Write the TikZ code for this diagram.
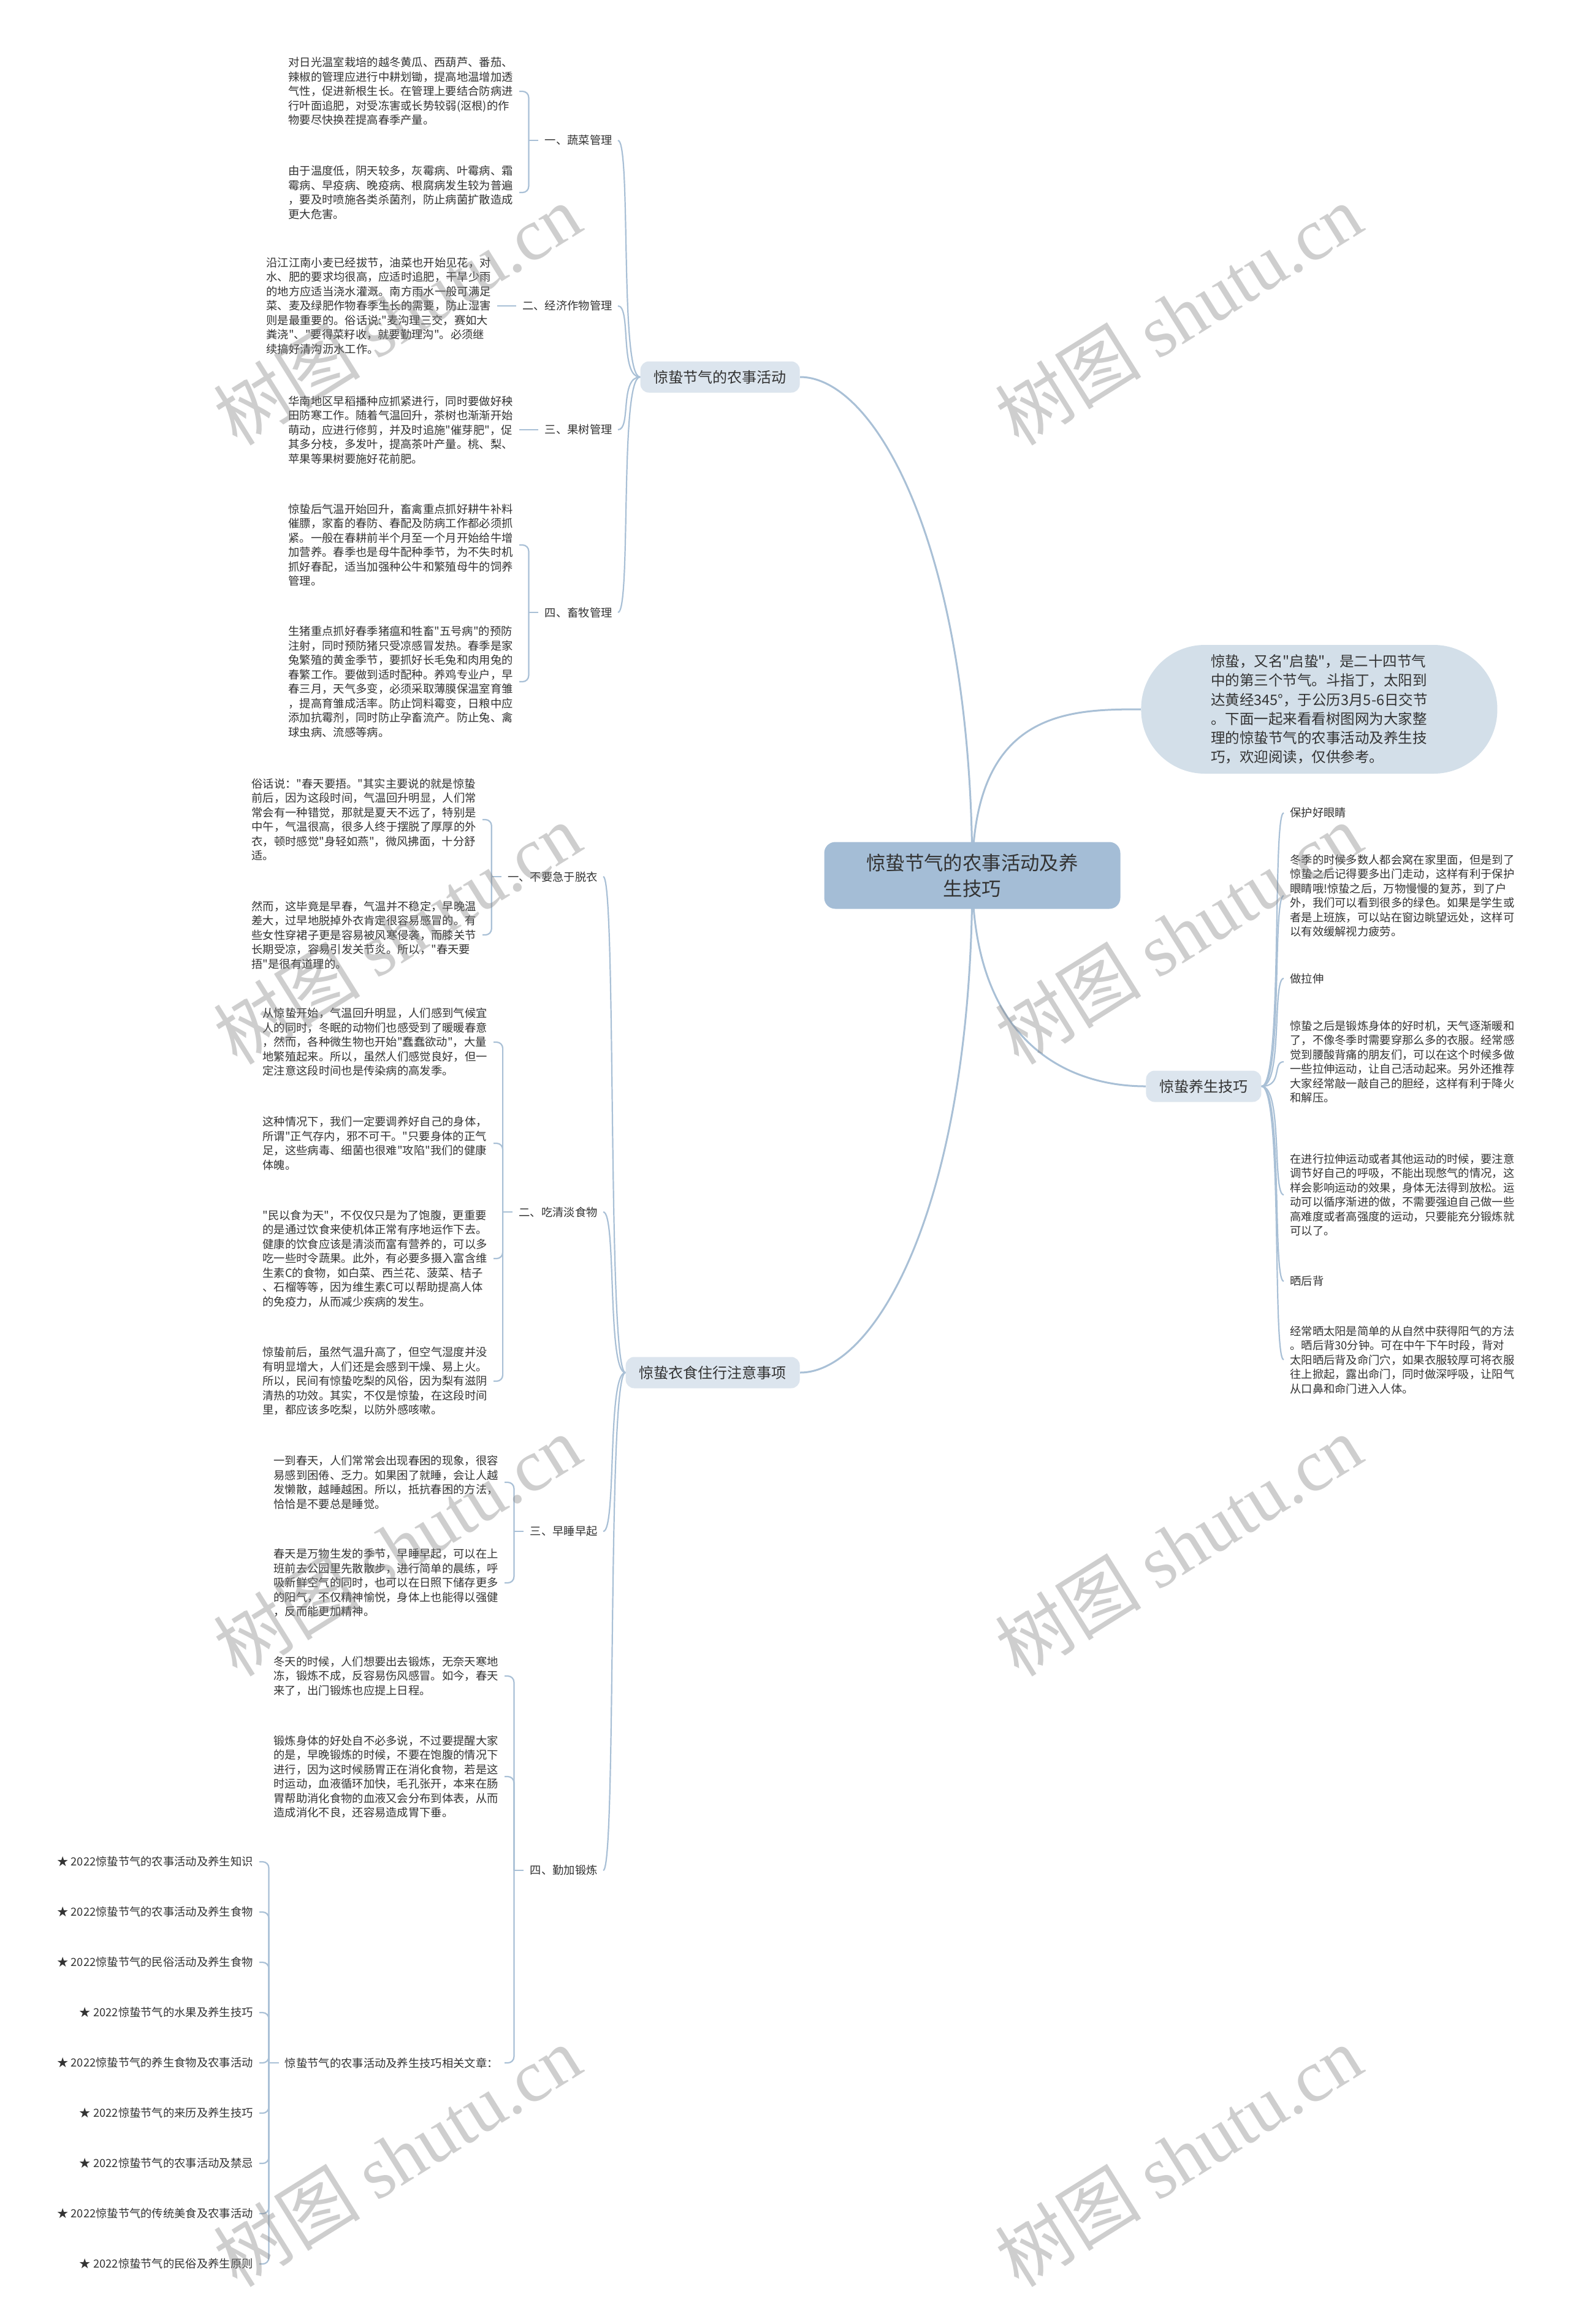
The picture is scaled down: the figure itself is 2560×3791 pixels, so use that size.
\documentclass[tikz,border=0pt]{standalone}
\usepackage{fontspec}
\newfontfamily\zhfont{Noto Sans CJK SC}
\newfontfamily\wmfont{Liberation Serif}
\usetikzlibrary{positioning,calc,backgrounds}
\definecolor{ink}{HTML}{333333}
\definecolor{linkblue}{HTML}{A9C0D6}
\definecolor{hubfill}{HTML}{A4BDD6}
\definecolor{branchfill}{HTML}{DCE5EE}
\definecolor{notefill}{HTML}{D3DFE9}

\begin{document}
\begin{tikzpicture}[x=0.5pt, y=-0.5pt,
  every node/.style={text=ink},
  hub/.style={fill=hubfill, rounded corners=9pt, align=center, inner sep=0pt,
              minimum width=241.5pt, minimum height=54.5pt,
              font={\zhfont\fontsize{15.7pt}{21pt}\selectfont}},
  note/.style={fill=notefill, rounded corners=52pt, align=left, inner sep=0pt,
               minimum width=290.5pt, minimum height=105pt, anchor=west,
               font={\zhfont\fontsize{11.75pt}{15.6pt}\selectfont}},
  branch/.style={fill=branchfill, rounded corners=7pt, inner xsep=11pt, inner ysep=0pt,
                 minimum height=25.5pt, font={\zhfont\fontsize{12pt}{14pt}\selectfont}},
  tag/.style={inner sep=0pt, anchor=east, font={\zhfont\fontsize{9.15pt}{11.75pt}\selectfont}},
  tagr/.style={tag, anchor=west},
  leaf/.style={tag, text width=183pt, align=left},
  leafr/.style={leaf, anchor=west},
  link/.style={draw=linkblue, line width=1.5pt},
  twig/.style={draw=linkblue, line width=1.1pt, rounded corners=5pt},
  wmark/.style={rotate=32, text=gray, opacity=0.38,
                font={\zhfont\fontsize{60pt}{60pt}\selectfont}}
]
\useasboundingbox (0,0) rectangle (2560,3791);

% centre and main branches
\node[hub] (root) at (1586,1428) {惊蛰节气的农事活动及养\\生技巧};
\node[note] (intro) at (1861,1157)
  {惊蛰，又名"启蛰"，是二十四节气\\中的第三个节气。斗指丁，太阳到\\达黄经345°，于公历3月5-6日交节\\。下面一起来看看树图网为大家整\\理的惊蛰节气的农事活动及养生技\\巧，欢迎阅读，仅供参考。};
\node[branch, anchor=east] (farm) at (1305,615) {惊蛰节气的农事活动};
\node[branch, anchor=east] (life) at (1305,2239) {惊蛰衣食住行注意事项};
\node[branch, anchor=west] (health) at (1869,1772) {惊蛰养生技巧};

% farm work
\node[tag] (veg) at (999,229) {一、蔬菜管理};
\node[tag] (crop) at (999,499) {二、经济作物管理};
\node[tag] (fruit) at (999,701) {三、果树管理};
\node[tag] (stock) at (999,999) {四、畜牧管理};

\node[leaf] (veg1) at (837,149) {对日光温室栽培的越冬黄瓜、西葫芦、番茄、\\辣椒的管理应进行中耕划锄，提高地温增加透\\气性，促进新根生长。在管理上要结合防病进\\行叶面追肥，对受冻害或长势较弱(沤根)的作\\物要尽快换茬提高春季产量。};
\node[leaf] (veg2) at (837,314) {由于温度低，阴天较多，灰霉病、叶霉病、霜\\霉病、早疫病、晚疫病、根腐病发生较为普遍\\，要及时喷施各类杀菌剂，防止病菌扩散造成\\更大危害。};
\node[leaf] (crop1) at (801,499) {沿江江南小麦已经拔节，油菜也开始见花，对\\水、肥的要求均很高，应适时追肥，干旱少雨\\的地方应适当浇水灌溉。南方雨水一般可满足\\菜、麦及绿肥作物春季生长的需要，防止湿害\\则是最重要的。俗话说:"麦沟理三交，赛如大\\粪浇"、"要得菜籽收，就要勤理沟"。必须继\\续搞好清沟沥水工作。};
\node[leaf] (fruit1) at (837,701) {华南地区早稻播种应抓紧进行，同时要做好秧\\田防寒工作。随着气温回升，茶树也渐渐开始\\萌动，应进行修剪，并及时追施"催芽肥"，促\\其多分枝，多发叶，提高茶叶产量。桃、梨、\\苹果等果树要施好花前肥。};
\node[leaf] (stock1) at (837,889) {惊蛰后气温开始回升，畜禽重点抓好耕牛补料\\催膘，家畜的春防、春配及防病工作都必须抓\\紧。一般在春耕前半个月至一个月开始给牛增\\加营养。春季也是母牛配种季节，为不失时机\\抓好春配，适当加强种公牛和繁殖母牛的饲养\\管理。};
\node[leaf] (stock2) at (837,1112) {生猪重点抓好春季猪瘟和牲畜"五号病"的预防\\注射，同时预防猪只受凉感冒发热。春季是家\\兔繁殖的黄金季节，要抓好长毛兔和肉用兔的\\春繁工作。要做到适时配种。养鸡专业户，早\\春三月，天气多变，必须采取薄膜保温室育雏\\，提高育雏成活率。防止饲料霉变，日粮中应\\添加抗霉剂，同时防止孕畜流产。防止兔、禽\\球虫病、流感等病。};

% daily life
\node[tag] (cloth) at (975,1430) {一、不要急于脱衣};
\node[tag] (diet) at (975,1977) {二、吃清淡食物};
\node[tag] (sleep) at (975,2498) {三、早睡早起};
\node[tag] (sport) at (975,3051) {四、勤加锻炼};

\node[leaf] (cloth1) at (777,1337) {俗话说："春天要捂。"其实主要说的就是惊蛰\\前后，因为这段时间，气温回升明显，人们常\\常会有一种错觉，那就是夏天不远了，特别是\\中午，气温很高，很多人终于摆脱了厚厚的外\\衣，顿时感觉"身轻如燕"，微风拂面，十分舒\\适。};
\node[leaf] (cloth2) at (777,1525) {然而，这毕竟是早春，气温并不稳定，早晚温\\差大，过早地脱掉外衣肯定很容易感冒的。有\\些女性穿裙子更是容易被风寒侵袭，而膝关节\\长期受凉，容易引发关节炎。所以，"春天要\\捂"是很有道理的。};
\node[leaf] (diet1) at (795,1700) {从惊蛰开始，气温回升明显，人们感到气候宜\\人的同时，冬眠的动物们也感受到了暖暖春意\\，然而，各种微生物也开始"蠢蠢欲动"，大量\\地繁殖起来。所以，虽然人们感觉良好，但一\\定注意这段时间也是传染病的高发季。};
\node[leaf] (diet2) at (795,1865) {这种情况下，我们一定要调养好自己的身体，\\所谓"正气存内，邪不可干。"只要身体的正气\\足，这些病毒、细菌也很难"攻陷"我们的健康\\体魄。};
\node[leaf] (diet3) at (795,2053) {"民以食为天"，不仅仅只是为了饱腹，更重要\\的是通过饮食来使机体正常有序地运作下去。\\健康的饮食应该是清淡而富有营养的，可以多\\吃一些时令蔬果。此外，有必要多摄入富含维\\生素C的食物，如白菜、西兰花、菠菜、桔子\\、石榴等等，因为维生素C可以帮助提高人体\\的免疫力，从而减少疾病的发生。};
\node[leaf] (diet4) at (795,2253) {惊蛰前后，虽然气温升高了，但空气湿度并没\\有明显增大，人们还是会感到干燥、易上火。\\所以，民间有惊蛰吃梨的风俗，因为梨有滋阴\\清热的功效。其实，不仅是惊蛰，在这段时间\\里，都应该多吃梨，以防外感咳嗽。};
\node[leaf] (sleep1) at (813,2418) {一到春天，人们常常会出现春困的现象，很容\\易感到困倦、乏力。如果困了就睡，会让人越\\发懒散，越睡越困。所以，抵抗春困的方法，\\恰恰是不要总是睡觉。};
\node[leaf] (sleep2) at (813,2582) {春天是万物生发的季节，早睡早起，可以在上\\班前去公园里先散散步，进行简单的晨练，呼\\吸新鲜空气的同时，也可以在日照下储存更多\\的阳气，不仅精神愉悦，身体上也能得以强健\\，反而能更加精神。};
\node[leaf] (sport1) at (813,2734) {冬天的时候，人们想要出去锻炼，无奈天寒地\\冻，锻炼不成，反容易伤风感冒。如今，春天\\来了，出门锻炼也应提上日程。};
\node[leaf] (sport2) at (813,2898) {锻炼身体的好处自不必多说，不过要提醒大家\\的是，早晚锻炼的时候，不要在饱腹的情况下\\进行，因为这时候肠胃正在消化食物，若是这\\时运动，血液循环加快，毛孔张开，本来在肠\\胃帮助消化食物的血液又会分布到体表，从而\\造成消化不良，还容易造成胃下垂。};
\node[tag] (rel) at (813,3365) {惊蛰节气的农事活动及养生技巧相关文章：};
\foreach \t [count=\i] in {农事活动及养生知识,农事活动及养生食物,民俗活动及养生食物,水果及养生技巧,养生食物及农事活动,来历及养生技巧,农事活动及禁忌,传统美食及农事活动,民俗及养生原则}
  \node[tag] (art\i) at (413,2955+82*\i) {★ 2022惊蛰节气的\t};

% health tips
\node[tagr] (eye) at (2104,1326) {保护好眼睛};
\node[leafr] (eye1) at (2104,1461) {冬季的时候多数人都会窝在家里面，但是到了\\惊蛰之后记得要多出门走动，这样有利于保护\\眼睛哦!惊蛰之后，万物慢慢的复苏，到了户\\外，我们可以看到很多的绿色。如果是学生或\\者是上班族，可以站在窗边眺望远处，这样可\\以有效缓解视力疲劳。};
\node[tagr] (stretch) at (2104,1596) {做拉伸};
\node[leafr] (stretch1) at (2104,1732) {惊蛰之后是锻炼身体的好时机，天气逐渐暖和\\了，不像冬季时需要穿那么多的衣服。经常感\\觉到腰酸背痛的朋友们，可以在这个时候多做\\一些拉伸运动，让自己活动起来。另外还推荐\\大家经常敲一敲自己的胆经，这样有利于降火\\和解压。};
\node[leafr] (stretch2) at (2104,1949) {在进行拉伸运动或者其他运动的时候，要注意\\调节好自己的呼吸，不能出现憋气的情况，这\\样会影响运动的效果，身体无法得到放松。运\\动可以循序渐进的做，不需要强迫自己做一些\\高难度或者高强度的运动，只要能充分锻炼就\\可以了。};
\node[tagr] (sun) at (2104,2090) {晒后背};
\node[leafr] (sun1) at (2104,2218) {经常晒太阳是简单的从自然中获得阳气的方法\\。晒后背30分钟。可在中午下午时段，背对\\太阳晒后背及命门穴，如果衣服较厚可将衣服\\往上掀起，露出命门，同时做深呼吸，让阳气\\从口鼻和命门进入人体。};

% connectors
\begin{scope}[on background layer]
\fill[white] (0,0) rectangle (2560,3791);
\draw[link] (root.center) .. controls (1586,900) and (1430,615) .. (farm.east);
\draw[link] (root.center) .. controls (1586,1960) and (1430,2239) .. (life.east);
\draw[link] (root.center) .. controls (1586,1160) and (1740,1157) .. (intro.west);
\draw[link] (root.center) .. controls (1586,1700) and (1740,1772) .. (health.west);
\end{scope}

\foreach \c in {veg,crop,fruit,stock}
  \draw[twig] (farm.west) .. controls +(-34,0) and +(22,0) .. ($(\c.east)+(9,0)$);
\foreach \c in {cloth,diet,sleep,sport}
  \draw[twig] (life.west) .. controls +(-30,0) and +(22,0) .. ($(\c.east)+(9,0)$);
\foreach \c in {eye,eye1,stretch,stretch1,stretch2,sun,sun1}
  \draw[twig] (health.east) .. controls +(35,0) and +(-19,0) .. ($(\c.west)+(-10,0)$);

\draw[twig] ($(crop.west)+(-10,0)$) -- ($(crop1.east)+(10,0)$);
\draw[twig] ($(fruit.west)+(-10,0)$) -- ($(fruit1.east)+(10,0)$);

\coordinate (vegj) at ($(veg.west)+(-26,0)$);
\draw[twig] ($(veg.west)+(-10,0)$) -- (vegj);
\foreach \c in {veg1,veg2} \draw[twig] (vegj) |- ($(\c.east)+(10,0)$);

\coordinate (stockj) at ($(stock.west)+(-26,0)$);
\draw[twig] ($(stock.west)+(-10,0)$) -- (stockj);
\foreach \c in {stock1,stock2} \draw[twig] (stockj) |- ($(\c.east)+(10,0)$);

\coordinate (clothj) at ($(cloth.west)+(-26,0)$);
\draw[twig] ($(cloth.west)+(-10,0)$) -- (clothj);
\foreach \c in {cloth1,cloth2} \draw[twig] (clothj) |- ($(\c.east)+(10,0)$);

\coordinate (dietj) at ($(diet.west)+(-26,0)$);
\draw[twig] ($(diet.west)+(-10,0)$) -- (dietj);
\foreach \c in {diet1,diet2,diet3,diet4} \draw[twig] (dietj) |- ($(\c.east)+(10,0)$);

\coordinate (sleepj) at ($(sleep.west)+(-26,0)$);
\draw[twig] ($(sleep.west)+(-10,0)$) -- (sleepj);
\foreach \c in {sleep1,sleep2} \draw[twig] (sleepj) |- ($(\c.east)+(10,0)$);

\coordinate (sportj) at ($(sport.west)+(-26,0)$);
\draw[twig] ($(sport.west)+(-10,0)$) -- (sportj);
\foreach \c in {sport1,sport2,rel} \draw[twig] (sportj) |- ($(\c.east)+(10,0)$);

\coordinate (relj) at ($(rel.west)+(-26,0)$);
\draw[twig] ($(rel.west)+(-10,0)$) -- (relj);
\foreach \i in {1,...,9} \draw[twig] (relj) |- ($(art\i.east)+(10,0)$);

% watermarks
\foreach \wx in {648,1922}
  \foreach \wy in {513,1523,2521,3517}
    \node[wmark] at (\wx,\wy) {树图 {\wmfont shutu.cn}};
\end{tikzpicture}
\end{document}
